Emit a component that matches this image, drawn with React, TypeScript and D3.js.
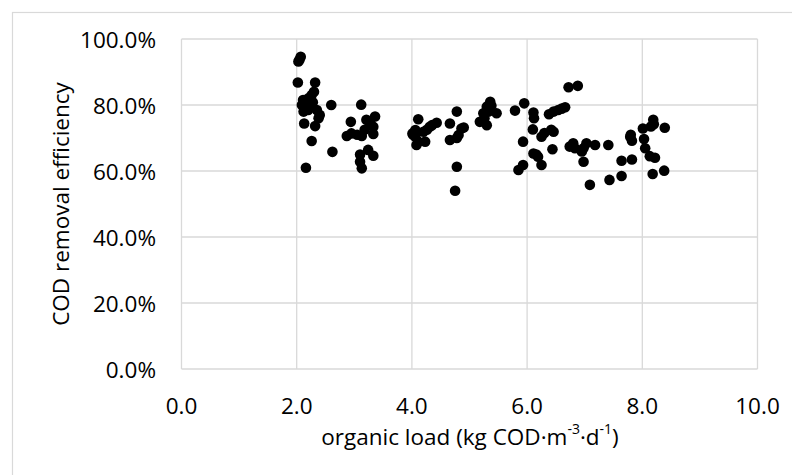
import React from "react";
import * as d3 from "d3";

// organic load (kg COD·m-3·d-1)
const loads: number[] = [
  2.03, 2.07, 2.05, 2.02, 2.32, 2.30, 2.26, 2.20, 2.11, 2.09, 2.14, 2.20, 2.35, 2.40, 2.38, 2.13, 2.32, 2.26, 2.16, 2.60, 2.62, 2.18, 2.24, 2.28, 2.12,
  2.94, 2.87, 2.95, 3.12, 3.13, 3.21, 3.36, 3.33, 3.33, 3.24, 3.33, 3.10, 3.13, 3.10, 3.28, 3.18, 3.05,
  4.01, 4.06, 4.06, 4.11, 4.02, 4.11, 4.08, 4.23, 4.20, 4.31, 4.35, 4.43, 4.26, 4.66, 4.78, 4.86, 4.81, 4.66, 4.78, 4.78, 4.75, 4.90,
  5.36, 5.30, 5.47, 5.24, 5.18, 5.30, 5.38, 5.33, 5.26,
  5.79, 5.95, 6.11, 6.12, 6.10, 5.93, 6.25, 6.30, 6.42, 6.46, 6.44, 6.46, 6.54, 6.60, 6.66, 6.72, 6.88, 6.11, 6.19, 6.25, 5.85, 5.93, 6.16, 6.38,
  6.74, 6.80, 6.83, 6.95, 6.98, 7.03, 6.98, 7.18, 7.41, 7.09, 7.43, 7.64, 7.64, 7.82, 7.79, 7.82, 7.80,
  8.01, 8.19, 8.20, 8.39, 8.03, 8.05, 8.13, 8.22, 8.18, 8.38, 8.15,
];

// COD removal efficiency (%)
const efficiencies: number[] = [
  93.2, 94.6, 93.8, 86.8, 86.8, 84.0, 83.0, 82.0, 81.5, 80.0, 79.0, 78.5, 78.5, 77.0, 76.0, 74.4, 73.6, 69.1, 61.0, 80.0, 65.8, 80.5, 79.5, 80.8, 78.0,
  74.9, 70.6, 71.4, 80.1, 70.6, 75.5, 76.5, 73.4, 71.2, 66.4, 64.6, 62.8, 60.8, 65.0, 74.5, 72.5, 71.0,
  71.4, 70.4, 72.4, 75.7, 71.0, 68.9, 67.9, 68.9, 71.9, 73.4, 73.9, 74.6, 72.5, 74.4, 78.0, 72.9, 70.9, 69.4, 70.0, 61.3, 54.0, 73.2,
  81.0, 79.5, 77.5, 77.5, 74.9, 73.9, 79.8, 78.0, 76.0,
  78.3, 80.5, 77.7, 76.0, 72.6, 68.9, 70.4, 71.5, 72.5, 71.9, 66.6, 78.0, 78.5, 78.9, 79.3, 85.4, 85.8, 65.3, 64.3, 61.8, 60.3, 61.8, 65.0, 77.2,
  67.4, 68.4, 66.9, 65.9, 62.8, 68.4, 66.9, 67.9, 67.9, 55.8, 57.3, 58.5, 63.1, 63.5, 70.4, 69.2, 71.0,
  72.9, 75.5, 74.2, 73.1, 69.7, 66.9, 64.5, 64.0, 59.1, 60.1, 73.5,
];

const xTicks: number[] = [0, 2, 4, 6, 8, 10];
const yTicks: number[] = [0, 20, 40, 60, 80, 100];

const xTitle = "organic load (kg COD·m";
const yTitle = "COD removal efficiency";

const W = 792;
const H = 475;
const FONT = "'Open Sans', 'Noto Sans', sans-serif";
const GRID = "#d9d9d9";

export default function App() {
  const x = d3.scaleLinear().domain([0, 10]).range([181.5, 757.5]);
  const y = d3.scaleLinear().domain([0, 100]).range([369, 39]);
  const points = loads.map((l, i) => ({ l, e: efficiencies[i] }));

  return (
    <svg
      width={W}
      height={H}
      style={{ position: "absolute", left: 0, top: 0, background: "#fff" }}
      fontFamily={FONT}
    >
      <rect x={0} y={0} width={W} height={H} fill="#fff" />
      <rect x={12.5} y={12.5} width={W + 20} height={H + 20} fill="none" stroke={GRID} strokeWidth={1.2} />
      {yTicks.map((t) => (
        <line key={"gy" + t} x1={x(0)} x2={x(10)} y1={y(t)} y2={y(t)} stroke={GRID} strokeWidth={1.3} />
      ))}
      {xTicks.map((t) => (
        <line key={"gx" + t} x1={x(t)} x2={x(t)} y1={y(0)} y2={y(100)} stroke={GRID} strokeWidth={1.3} />
      ))}
      {yTicks.map((t) => (
        <text key={"ty" + t} x={156} y={y(t)} textAnchor="end" dominantBaseline="central" fontSize={22.5} fill="#000">
          {d3.format(".1f")(t) + "%"}
        </text>
      ))}
      {xTicks.map((t) => (
        <text key={"tx" + t} x={x(t)} y={405} textAnchor="middle" dominantBaseline="central" fontSize={22.5} fill="#000">
          {d3.format(".1f")(t)}
        </text>
      ))}
      <text x={470} y={436} textAnchor="middle" dominantBaseline="central" fontSize={22.5} fill="#000">
        {xTitle}
        <tspan fontSize={14} dy={-8}>-3</tspan>
        <tspan fontSize={22.5} dy={8}>·d</tspan>
        <tspan fontSize={14} dy={-8}>-1</tspan>
        <tspan fontSize={22.5} dy={8}>)</tspan>
      </text>
      <text
        transform={`translate(60,204) rotate(-90)`}
        textAnchor="middle"
        dominantBaseline="central"
        fontSize={22.5}
        fill="#000"
      >
        {yTitle}
      </text>
      {points.map((p, i) => (
        <circle key={i} cx={x(p.l)} cy={y(p.e)} r={5.3} fill="#000" />
      ))}
    </svg>
  );
}
